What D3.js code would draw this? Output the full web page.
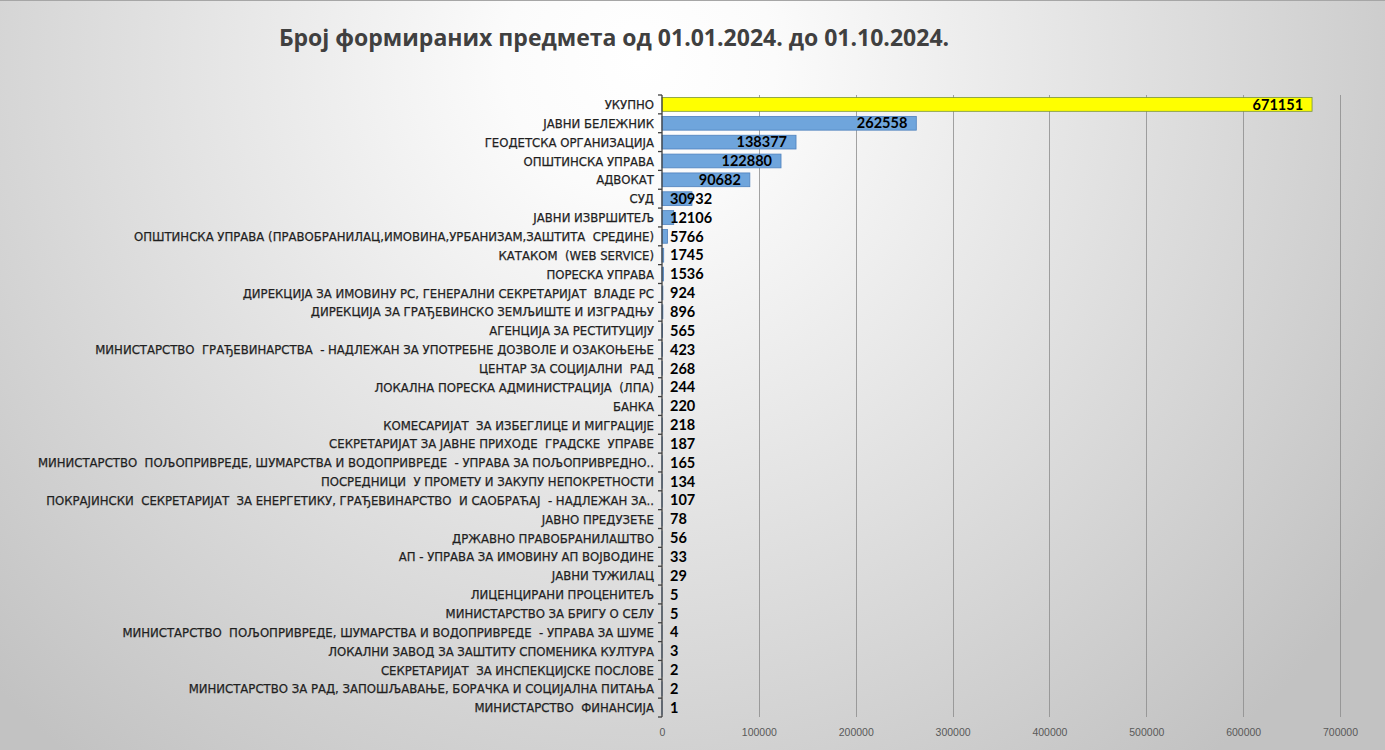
<!DOCTYPE html>
<html>
<head>
<meta charset="utf-8">
<script src="https://cdn.jsdelivr.net/npm/d3@7/dist/d3.min.js"></script>
<style>
    body { margin: 0; }
    svg { display: block; }
</style>
</head>
<body>
<svg id="chart" width="1385" height="750"></svg>
<script>
// chart values, top to bottom
const categories = [
    "УКУПНО",
    "ЈАВНИ БЕЛЕЖНИК",
    "ГЕОДЕТСКА ОРГАНИЗАЦИЈА",
    "ОПШТИНСКА УПРАВА",
    "АДВОКАТ",
    "СУД",
    "ЈАВНИ ИЗВРШИТЕЉ",
    "ОПШТИНСКА УПРАВА (ПРАВОБРАНИЛАЦ,ИМОВИНА,УРБАНИЗАМ,ЗАШТИТА  СРЕДИНЕ)",
    "КАТАКОМ  (WEB SERVICE)",
    "ПОРЕСКА УПРАВА",
    "ДИРЕКЦИЈА ЗА ИМОВИНУ РС, ГЕНЕРАЛНИ СЕКРЕТАРИЈАТ  ВЛАДЕ РС",
    "ДИРЕКЦИЈА ЗА ГРАЂЕВИНСКО ЗЕМЉИШТЕ И ИЗГРАДЊУ",
    "АГЕНЦИЈА ЗА РЕСТИТУЦИЈУ",
    "МИНИСТАРСТВО  ГРАЂЕВИНАРСТВА  - НАДЛЕЖАН ЗА УПОТРЕБНЕ ДОЗВОЛЕ И ОЗАКОЊЕЊЕ",
    "ЦЕНТАР ЗА СОЦИЈАЛНИ  РАД",
    "ЛОКАЛНА ПОРЕСКА АДМИНИСТРАЦИЈА  (ЛПА)",
    "БАНКА",
    "КОМЕСАРИЈАТ  ЗА ИЗБЕГЛИЦЕ И МИГРАЦИЈЕ",
    "СЕКРЕТАРИЈАТ ЗА ЈАВНЕ ПРИХОДЕ  ГРАДСКЕ  УПРАВЕ",
    "МИНИСТАРСТВО  ПОЉОПРИВРЕДЕ, ШУМАРСТВА И ВОДОПРИВРЕДЕ  - УПРАВА ЗА ПОЉОПРИВРЕДНО..",
    "ПОСРЕДНИЦИ  У ПРОМЕТУ И ЗАКУПУ НЕПОКРЕТНОСТИ",
    "ПОКРАЈИНСКИ  СЕКРЕТАРИЈАТ  ЗА ЕНЕРГЕТИКУ, ГРАЂЕВИНАРСТВО  И САОБРАЋАЈ  - НАДЛЕЖАН ЗА..",
    "ЈАВНО ПРЕДУЗЕЋЕ",
    "ДРЖАВНО ПРАВОБРАНИЛАШТВО",
    "АП - УПРАВА ЗА ИМОВИНУ АП ВОЈВОДИНЕ",
    "ЈАВНИ ТУЖИЛАЦ",
    "ЛИЦЕНЦИРАНИ ПРОЦЕНИТЕЉ",
    "МИНИСТАРСТВО ЗА БРИГУ О СЕЛУ",
    "МИНИСТАРСТВО  ПОЉОПРИВРЕДЕ, ШУМАРСТВА И ВОДОПРИВРЕДЕ  - УПРАВА ЗА ШУМЕ",
    "ЛОКАЛНИ ЗАВОД ЗА ЗАШТИТУ СПОМЕНИКА КУЛТУРА",
    "СЕКРЕТАРИЈАТ  ЗА ИНСПЕКЦИЈСКЕ ПОСЛОВЕ",
    "МИНИСТАРСТВО ЗА РАД, ЗАПОШЉАВАЊЕ, БОРАЧКА И СОЦИЈАЛНА ПИТАЊА",
    "МИНИСТАРСТВО  ФИНАНСИЈА"
];

const values = [
    671151, 262558, 138377, 122880, 90682, 30932, 12106, 5766, 1745, 1536,
    924, 896, 565, 423, 268, 244, 220, 218, 187, 165,
    134, 107, 78, 56, 33, 29, 5, 5, 4, 3,
    2, 2, 1
];

const xTicks = [0, 100000, 200000, 300000, 400000, 500000, 600000, 700000];

const title = "Број формираних предмета од 01.01.2024. до 01.10.2024.";

const width = 1385, height = 750;
const margin = {top: 95, left: 662, right: 45, bottom: 33};
const labelFont = "'Liberation Sans Narrow', 'DejaVu Sans Condensed', Roboto, sans-serif";
const numFont = "Lato, 'Open Sans', sans-serif";

const data = categories.map(function(c, i) { return {name: c, value: values[i]}; });

const svg = d3.select("#chart");

// background gradient (white near top middle, grey towards edges)
const defs = svg.append("defs");
const grad = defs.append("radialGradient")
    .attr("id", "bg")
    .attr("gradientUnits", "userSpaceOnUse")
    .attr("cx", 640).attr("cy", 60)
    .attr("r", 900);
grad.append("stop").attr("offset", "0%").attr("stop-color", "#ffffff");
grad.append("stop").attr("offset", "15%").attr("stop-color", "#fbfbfb");
grad.append("stop").attr("offset", "100%").attr("stop-color", "#c2c2c2");

svg.append("rect")
    .attr("width", width).attr("height", height)
    .attr("fill", "url(#bg)");
svg.append("line")
    .attr("x1", 0).attr("x2", width).attr("y1", 0.5).attr("y2", 0.5)
    .attr("stroke", "#a6a6a6");

const x = d3.scaleLinear()
    .domain([0, 700000])
    .range([margin.left, width - margin.right]);

const y = d3.scaleBand()
    .domain(categories)
    .range([margin.top, height - margin.bottom])
    .paddingInner(0.27)
    .paddingOuter(0.135);

// gridlines
svg.append("g")
    .selectAll("line")
    .data(xTicks.slice(1))
    .enter().append("line")
    .attr("x1", function(d) { return Math.round(x(d)) + 0.5; })
    .attr("x2", function(d) { return Math.round(x(d)) + 0.5; })
    .attr("y1", margin.top)
    .attr("y2", height - margin.bottom)
    .attr("stroke", "#8c8c8c")
    .attr("stroke-width", 0.8);

// x tick labels
const xAxis = d3.axisBottom(x).tickValues(xTicks).tickSize(0).tickPadding(12)
    .tickFormat(d3.format("d"));
const gx = svg.append("g")
    .attr("transform", "translate(0," + (height - margin.bottom) + ")")
    .call(xAxis);
gx.select(".domain").remove();
gx.selectAll("text")
    .attr("fill", "#595959")
    .style("font-family", "'Liberation Sans', Arial, sans-serif")
    .style("font-size", "10.5px");

// bars
svg.append("g")
    .selectAll("rect")
    .data(data)
    .enter().append("rect")
    .attr("x", x(0))
    .attr("y", function(d) { return y(d.name); })
    .attr("width", function(d) { return x(d.value) - x(0); })
    .attr("height", y.bandwidth())
    .attr("fill", function(d, i) { return i === 0 ? "#ffff00" : "#6fa5dc"; })
    .attr("stroke", function(d, i) { return i === 0 ? "#77933c" : "#4f81bd"; })
    .attr("stroke-width", 0.8);

// category axis with outward ticks between categories
const step = y.step();
const bounds = d3.range(categories.length + 1).map(function(i) {
    return margin.top + i * step;
});
const gy = svg.append("g");
gy.append("line")
    .attr("x1", x(0)).attr("x2", x(0))
    .attr("y1", margin.top).attr("y2", height - margin.bottom)
    .attr("stroke", "#404040").attr("stroke-width", 1.3);
gy.selectAll(".tick")
    .data(bounds)
    .enter().append("line")
    .attr("x1", x(0) - 4).attr("x2", x(0))
    .attr("y1", function(d) { return d; })
    .attr("y2", function(d) { return d; })
    .attr("stroke", "#404040").attr("stroke-width", 1.3);

// category labels
svg.append("g")
    .selectAll("text")
    .data(data)
    .enter().append("text")
    .attr("x", x(0) - 8)
    .attr("y", function(d) { return y(d.name) + y.bandwidth() / 2; })
    .attr("dy", "0.36em")
    .attr("text-anchor", "end")
    .attr("fill", "#1f1f1f")
    .attr("stroke", "#1f1f1f")
    .attr("stroke-width", 0.25)
    .style("font-family", labelFont)
    .style("font-size", "13px")
    .style("white-space", "pre")
    .text(function(d) { return d.name; });

// value labels: inside end, pushed out to the base when the bar is too short
const vals = svg.append("g")
    .selectAll("text")
    .data(data)
    .enter().append("text")
    .attr("y", function(d) { return y(d.name) + y.bandwidth() / 2; })
    .attr("dy", "0.36em")
    .attr("fill", "#000")
    .style("font-family", numFont)
    .style("font-size", "14.5px")
    .style("font-weight", "bold")
    .text(function(d) { return d.value; });
vals.each(function(d) {
    const w = this.getComputedTextLength();
    let left = x(d.value) - 9 - w;
    if (left < x(0) + 8) left = x(0) + 8;
    d3.select(this).attr("x", left);
});

// title
svg.append("text")
    .attr("x", 614)
    .attr("y", 46)
    .attr("text-anchor", "middle")
    .attr("fill", "#404040")
    .style("font-family", "'Open Sans', sans-serif")
    .style("font-size", "23px")
    .style("font-weight", "bold")
    .text(title);
</script>
</body>
</html>
